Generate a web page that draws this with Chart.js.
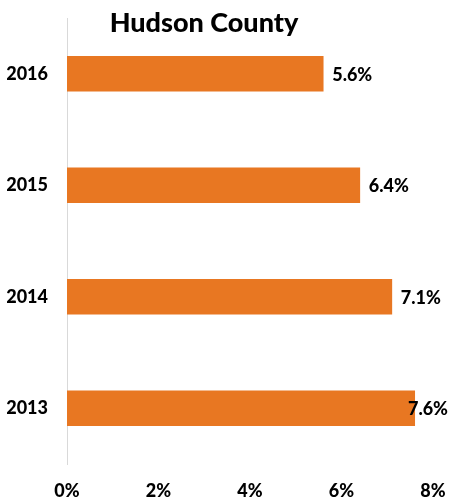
<!DOCTYPE html>
<html><head><meta charset="utf-8">
<script src="https://cdn.jsdelivr.net/npm/chart.js@4/dist/chart.umd.min.js"></script>
<style>html,body{margin:0;padding:0;background:#fff}#wrap{width:449px;height:502px;position:relative}</style>
</head><body><div id="wrap"><canvas id="c" width="449" height="502"></canvas></div>
<script>
const titleText = "Hudson County";
const categories = ["2016", "2015", "2014", "2013"];
const values = [5.6, 6.4, 7.1, 7.6];
const valueLabels = ["5.6%", "6.4%", "7.1%", "7.6%"];
const xTicks = [0, 2, 4, 6, 8];

const FONT = "Lato, 'Liberation Sans', sans-serif";
const W = 900;

const titlePlugin = {
  id: 'customTitle',
  afterDraw(chart) {
    const ctx = chart.ctx;
    ctx.save();
    ctx.font = W + " 27px " + FONT;
    ctx.fillStyle = "#000";
    ctx.textAlign = "center";
    ctx.textBaseline = "middle";
    ctx.fillText(titleText, 204, 23);
    ctx.restore();
  }
};

const labelPlugin = {
  id: 'valLabels',
  afterDatasetsDraw(chart) {
    const ctx = chart.ctx;
    const meta = chart.getDatasetMeta(0);
    ctx.save();
    ctx.font = W + " 18px " + FONT;
    ctx.fillStyle = "#000";
    ctx.textBaseline = "middle";
    ctx.textAlign = "left";
    meta.data.forEach((bar, i) => {
      const t = valueLabels[i];
      const w = ctx.measureText(t).width;
      const x = Math.min(bar.x + 9, chart.width - w - 1);
      ctx.fillText(t, x, bar.y + 1);
    });
    ctx.restore();
  }
};

new Chart(document.getElementById('c'), {
  type: 'bar',
  data: {
    labels: categories,
    datasets: [{
      data: values,
      backgroundColor: '#E87722',
      borderWidth: 0,
      barThickness: 35
    }]
  },
  options: {
    indexAxis: 'y',
    responsive: false,
    animation: false,
    devicePixelRatio: 1,
    layout: { padding: { top: 18, right: 16, left: 7, bottom: 0 } },
    plugins: { legend: { display: false }, title: { display: false }, tooltip: { enabled: false } },
    scales: {
      x: {
        min: 0, max: 8,
        afterBuildTicks(scale) { scale.ticks = xTicks.map(v => ({ value: v })); },
        afterFit(scale) { scale.height = 38; scale.paddingLeft = 0; scale.paddingRight = 0; },
        grid: { display: false, drawTicks: false },
        border: { display: false },
        ticks: {
          padding: 16,
          color: '#000',
          font: { family: FONT, size: 18, weight: W },
          callback: v => v + '%'
        }
      },
      y: {
        afterFit(scale) { scale.width = 60; scale.paddingTop = 0; scale.paddingBottom = 0; },
        grid: { drawOnChartArea: false, drawTicks: false },
        border: { display: true, color: '#d9d9d9', width: 1 },
        ticks: {
          padding: 19,
          color: '#000',
          font: { family: FONT, size: 18, weight: W }
        }
      }
    }
  },
  plugins: [titlePlugin, labelPlugin]
});
</script></body></html>
